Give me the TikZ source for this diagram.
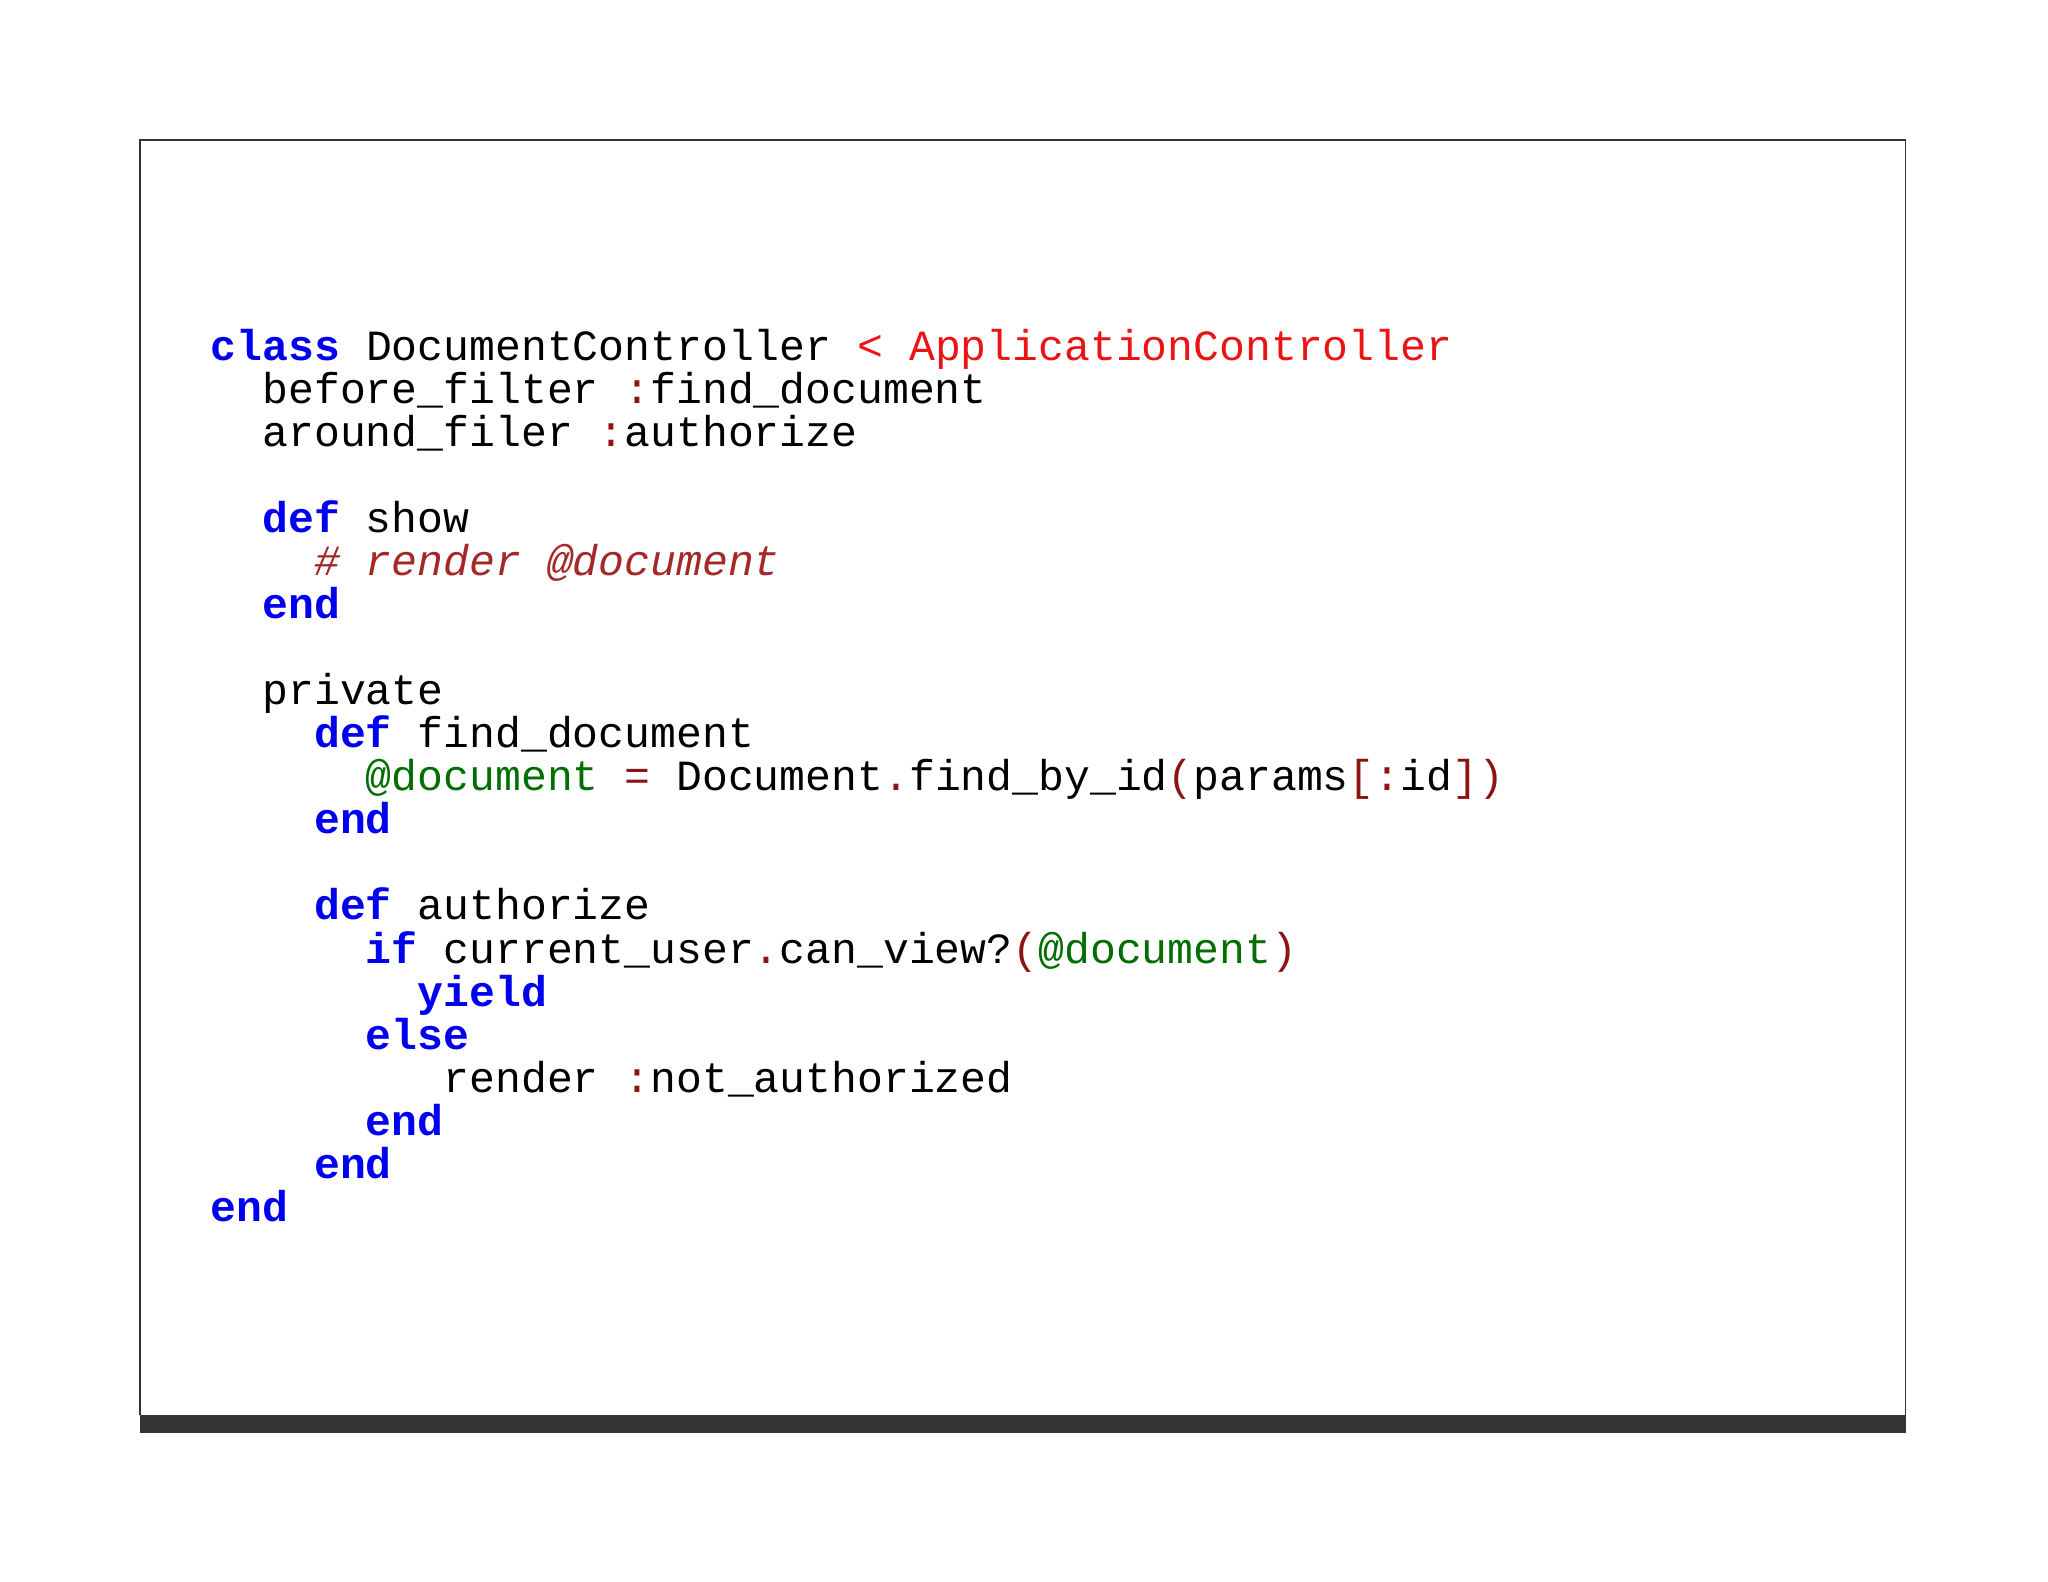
\documentclass[tikz,border=0pt]{standalone}
\usepackage{fontspec}
\newfontfamily\code{Liberation Mono}
\definecolor{kw}{RGB}{0,0,240}
\definecolor{cls}{RGB}{235,20,20}
\definecolor{sym}{RGB}{140,20,20}
\definecolor{ivar}{RGB}{0,110,0}
\definecolor{cmt}{RGB}{165,40,40}
\definecolor{framec}{RGB}{50,50,55}
\newcommand{\K}[1]{\textcolor{kw}{\bfseries #1}}
\newcommand{\Sy}[1]{\textcolor{sym}{#1}}
\newcommand{\Iv}[1]{\textcolor{ivar}{#1}}
\begin{document}
\begin{tikzpicture}[x=0.5pt,y=-0.5pt,
  ln/.style={anchor=base west,inner sep=0pt,font=\code\fontsize{16.5pt}{16.5pt}\selectfont}]
\useasboundingbox (0,0) rectangle (1568,1211);
\fill[white] (0,0) rectangle (1568,1211);
\draw[framec,line width=0.6pt] (107,1083) -- (107,107) -- (1459,107) -- (1459,1083);
\fill[framec] (107,1083) rectangle (1459,1097);
\def\cw{19.8}
\def\bl{276}
\def\ls{32.95}
\foreach \i/\ind/\txt in {
0/0/{\K{class} DocumentController \textcolor{cls}{< ApplicationController}},
1/2/{before\_filter \Sy{:}find\_document},
2/2/{around\_filer \Sy{:}authorize},
4/2/{\K{def} show},
5/4/{\textcolor{cmt}{\itshape \# render @document}},
6/2/{\K{end}},
8/2/{private},
9/4/{\K{def} find\_document},
10/6/{\Iv{@document} \Sy{=} Document\Sy{.}find\_by\_id\Sy{(}params\Sy{[:}id\Sy{])}},
11/4/{\K{end}},
13/4/{\K{def} authorize},
14/6/{\K{if} current\_user\Sy{.}can\_view?\Sy{(}\Iv{@document}\Sy{)}},
15/8/{\K{yield}},
16/6/{\K{else}},
17/9/{render \Sy{:}not\_authorized},
18/6/{\K{end}},
19/4/{\K{end}},
20/0/{\K{end}}}
{\node[ln] (l\i) at ({161+\ind*\cw},{\bl+\i*\ls}) {\txt};}
\end{tikzpicture}
\end{document}
